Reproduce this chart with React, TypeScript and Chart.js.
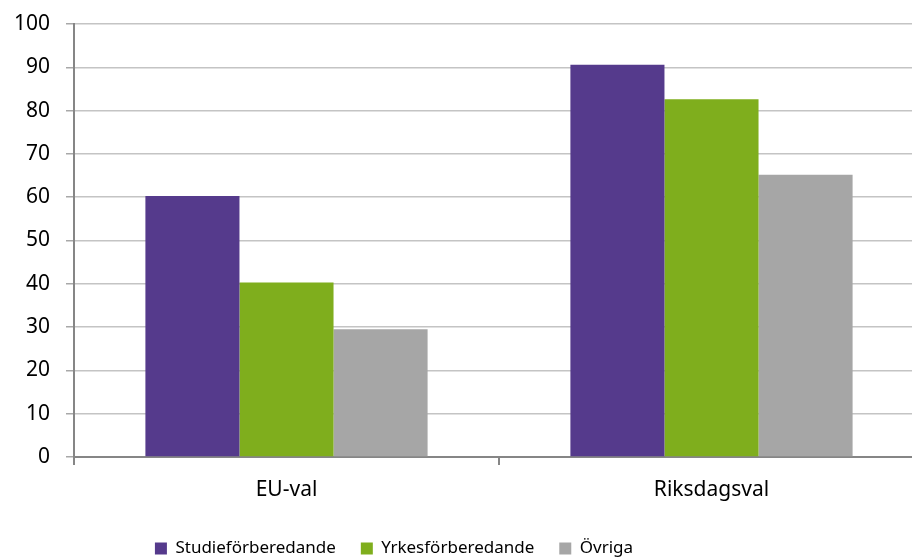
import React, { useEffect, useRef } from "react";
import { Chart, registerables } from "chart.js";

Chart.register(...registerables);

const categories = ["EU-val", "Riksdagsval"];
const seriesNames = ["Studieförberedande", "Yrkesförberedande", "Övriga"];
const studie = [60.3, 90.6];
const yrkes = [40.3, 82.6];
const ovriga = [29.5, 65.2];
const yTickMin = 0;
const yTickMax = 100;
const yTickStep = 10;

const COLORS = ["#553a8c", "#7fae1d", "#a6a6a6"];
const FONT = "'Noto Sans', sans-serif";

const legendPlace = {
  id: "legendPlace",
  afterLayout(chart: any) {
    const lg = chart.legend;
    if (!lg) return;
    const w = lg.width;
    const h = lg.height;
    const cx = 394;
    const top = 515;
    lg.left = cx - w / 2;
    lg.right = cx + w / 2;
    lg.top = top;
    lg.bottom = top + h;
  },
};

export default function App() {
  const ref = useRef<HTMLCanvasElement | null>(null);

  useEffect(() => {
    if (!ref.current) return;
    const chart = new Chart(ref.current, {
      type: "bar",
      data: {
        labels: categories,
        datasets: [
          { label: seriesNames[0], data: studie, backgroundColor: COLORS[0] },
          { label: seriesNames[1], data: yrkes, backgroundColor: COLORS[1] },
          { label: seriesNames[2], data: ovriga, backgroundColor: COLORS[2] },
        ],
      },
      options: {
        responsive: false,
        animation: false,
        layout: { padding: { left: 0, right: 6, top: 24, bottom: 0 } },
        datasets: {
          bar: { categoryPercentage: 0.664, barPercentage: 1 },
        },
        plugins: {
          tooltip: { enabled: false },
          legend: {
            position: "bottom",
            labels: {
              boxWidth: 12,
              boxHeight: 12,
              padding: 25,
              color: "#000",
              font: { family: FONT, size: 17 },
            },
          },
        },
        scales: {
          x: {
            afterFit: (s: any) => {
              s.height = 49;
            },
            border: { display: true, color: "#868686", width: 2 },
            grid: {
              display: true,
              drawOnChartArea: false,
              drawTicks: true,
              tickLength: 8,
              color: "#868686",
              lineWidth: 2,
              offset: true,
            },
            ticks: {
              color: "#000",
              padding: 12,
              font: { family: FONT, size: 21 },
            },
          },
          y: {
            min: yTickMin,
            max: yTickMax,
            afterFit: (s: any) => {
              s.width = 74;
              s.paddingTop = 12;
              s.paddingBottom = 12;
            },
            border: { display: true, color: "#868686", width: 2 },
            grid: {
              color: "#c4c4c4",
              lineWidth: 1.5,
              tickLength: 8,
              tickColor: "#a8a8a8",
            },
            ticks: {
              stepSize: yTickStep,
              color: "#000",
              padding: 16,
              font: { family: FONT, size: 21 },
            },
          },
        },
      },
      plugins: [legendPlace],
    });
    return () => chart.destroy();
  }, []);

  return (
    <div
      style={{
        position: "absolute",
        left: 0,
        top: 0,
        width: 912,
        height: 558,
        overflow: "hidden",
        background: "#fff",
      }}
    >
      <canvas ref={ref} width={930} height={558} style={{ display: "block" }} />
    </div>
  );
}
